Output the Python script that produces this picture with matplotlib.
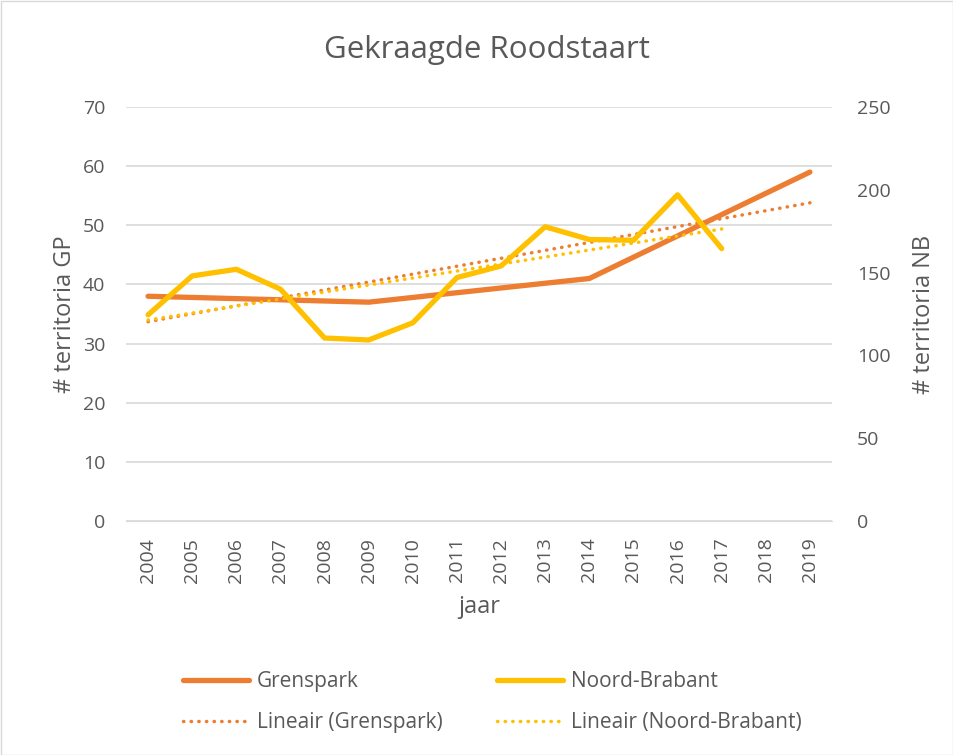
import numpy as np
import matplotlib
matplotlib.use("Agg")
import matplotlib.pyplot as plt
from matplotlib.patches import Rectangle
from matplotlib.lines import Line2D

years = list(range(2004, 2020))
year_labels = [str(y) for y in years]
# Grenspark: only counted in 2004, 2009, 2014, 2019 (gaps connected)
gp_years = [2004, 2009, 2014, 2019]
gp_values = [38, 37, 41, 59]
# Noord-Brabant 2004-2017
nb_years = list(range(2004, 2018))
nb_values = [124.5, 148, 152, 140, 110.5, 109.3, 119.7, 147, 154, 177.7, 170, 169.5, 197, 164.5]

orange = "#ED7D31"
yellow = "#FFC000"
txt = "#595959"
plt.rcParams['font.family'] = ['Open Sans', 'DejaVu Sans']

fig = plt.figure(figsize=(9.54, 7.55), dpi=100)
W, H = 954, 755
ax = fig.add_axes([126 / W, 1 - 521 / H, (832 - 126) / W, (521 - 107) / H])
ax2 = ax.twinx()

xi = {y: i for i, y in enumerate(years)}
gx = np.array([xi[y] for y in gp_years], dtype=float)
nx = np.array([xi[y] for y in nb_years], dtype=float)

dot = (0, (0.1, 2.1))
ax.plot(gx, gp_values, color=orange, lw=3.8, solid_capstyle='round', solid_joinstyle='round', zorder=3)
c = np.polyfit(gx, gp_values, 1)
ax.plot([gx[0], gx[-1]], np.polyval(c, [gx[0], gx[-1]]), color=orange, lw=2.5,
        linestyle=dot, dash_capstyle='round', zorder=3)

ax2.plot(nx, nb_values, color=yellow, lw=3.8, solid_capstyle='round', solid_joinstyle='round', zorder=3)
c2 = np.polyfit(nx, nb_values, 1)
ax2.plot([nx[0], nx[-1]], np.polyval(c2, [nx[0], nx[-1]]), color=yellow, lw=2.5,
         linestyle=dot, dash_capstyle='round', zorder=3)

ax.set_xlim(-0.5, len(years) - 0.5)
ax.set_ylim(0, 70)
ax2.set_ylim(0, 250)
ax.set_yticks(range(0, 71, 10))
ax2.set_yticks(range(0, 251, 50))
ax.set_xticks(range(len(years)))
ax.set_xticklabels(year_labels, rotation=90)
ax.grid(axis='y', color='#D9D9D9', lw=1.2)
ax.set_axisbelow(True)
for a in (ax, ax2):
    for s in a.spines.values():
        s.set_visible(False)
    a.tick_params(length=0, labelsize=14, labelcolor=txt)
ax.spines['bottom'].set_visible(True)
ax.spines['bottom'].set_color('#D9D9D9')
ax.tick_params(axis='y', pad=15)
ax2.tick_params(axis='y', pad=18)
ax.tick_params(axis='x', pad=12)

ax.set_ylabel('# territoria GP', fontsize=17, color=txt, labelpad=4)
ax2.set_ylabel('# territoria NB', fontsize=17, color=txt, labelpad=15)
ax.set_xlabel('jaar', fontsize=17, color=txt, labelpad=9)

fig.text(487 / W, 1 - 50 / H, 'Gekraagde Roodstaart', ha='center', va='center',
         fontsize=22.5, color=txt)

handles = [
    Line2D([], [], color=orange, lw=3.8, solid_capstyle='round'),
    Line2D([], [], color=orange, lw=2.5, linestyle=dot, dash_capstyle='round'),
    Line2D([], [], color=yellow, lw=3.8, solid_capstyle='round'),
    Line2D([], [], color=yellow, lw=2.5, linestyle=dot, dash_capstyle='round'),
]
labels = ['Grenspark', 'Lineair (Grenspark)', 'Noord-Brabant', 'Lineair (Noord-Brabant)']
leg = fig.legend(handles, labels, ncol=2, loc='center', bbox_to_anchor=(492 / W, 1 - 702 / H),
                 frameon=False, fontsize=15, handlelength=3.2, handletextpad=0.35,
                 columnspacing=2.6, labelspacing=0.95, borderpad=0)
for t in leg.get_texts():
    t.set_color(txt)

fig.patches.append(Rectangle((0.5 / W, 0.5 / H), 1 - 1 / W, 1 - 1 / H, transform=fig.transFigure,
                             fill=False, edgecolor='#D9D9D9', lw=1))

fig.savefig('out.png', dpi=100)
